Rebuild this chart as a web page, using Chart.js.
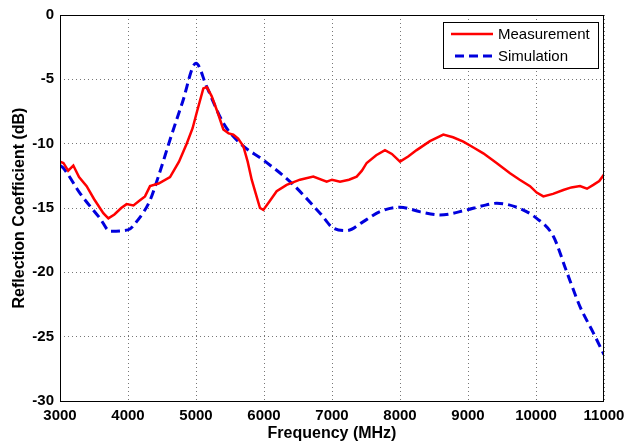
<!DOCTYPE html>
<html lang="en">
<head>
    <meta charset="UTF-8">
    <title>Reflection Coefficient</title>
    <script src="https://cdn.jsdelivr.net/npm/chart.js"></script>
    <style>
        body { margin: 0; background: #fff; }
        #wrap { width: 626px; height: 444px; }
    </style>
</head>
<body>
<div id="wrap"><canvas id="chart" width="626" height="444"></canvas></div>
<script>
    // 측정값 (MHz, dB)
    const measFreq = [3000, 3050, 3120, 3196, 3280, 3392, 3500, 3637, 3711, 3800, 3900, 3980, 4080, 4176, 4250,
        4324, 4450, 4618, 4750, 4863, 4950, 5010, 5108, 5160, 5230, 5320, 5402, 5480, 5549, 5620, 5696,
        5760, 5819, 5880, 5941, 5990, 6080, 6186, 6333, 6529, 6725, 6922, 7000, 7118, 7250, 7363, 7440,
        7510, 7650, 7779, 7880, 8000, 8120, 8245, 8440, 8637, 8780, 8931, 9080, 9225, 9420, 9618, 9760,
        9912, 10010, 10108, 10250, 10402, 10520, 10647, 10750, 10843, 10930, 11000];
    const measDb = [-11.4, -11.5, -12.1, -11.7, -12.6, -13.3, -14.3, -15.4, -15.8, -15.5, -15.0, -14.7, -14.8, -14.4, -14.1,
        -13.3, -13.1, -12.6, -11.4, -10.0, -8.8, -7.6, -5.7, -5.6, -6.3, -7.6, -8.9, -9.2, -9.3, -9.6, -10.2,
        -11.4, -12.8, -13.9, -15.0, -15.15, -14.5, -13.7, -13.2, -12.8, -12.56, -12.95, -12.8, -12.95, -12.8, -12.56, -12.1,
        -11.5, -10.9, -10.5, -10.8, -11.4, -11.0, -10.5, -9.8, -9.3, -9.5, -9.84, -10.3, -10.75, -11.5, -12.3, -12.8,
        -13.3, -13.8, -14.1, -13.9, -13.6, -13.4, -13.3, -13.5, -13.2, -12.9, -12.4];

    // 시뮬레이션 값 (MHz, dB)
    const simFreq = [3000, 3049, 3300, 3588, 3735, 4000, 4150, 4324, 4450, 4618, 4800, 5000, 5157, 5402, 5647,
        5990, 6382, 6824, 7015, 7216, 7450, 7706, 8000, 8300, 8588, 8980, 9200, 9422, 9716, 10010, 10255,
        10451, 10647, 10843, 11000];
    const simDb = [-11.7, -11.9, -13.9, -15.8, -16.8, -16.7, -15.9, -14.4, -12.5, -9.7, -6.8, -3.75, -5.57, -8.4, -9.97,
        -11.27, -12.95, -15.4, -16.55, -16.76, -16.1, -15.28, -14.94, -15.3, -15.54, -15.15, -14.85, -14.63, -14.94, -15.8, -17.2,
        -19.95, -22.66, -24.7, -26.4];

    const xTicks = [3000, 4000, 5000, 6000, 7000, 8000, 9000, 10000, 11000];
    const yTicks = [0, -5, -10, -15, -20, -25, -30];

    const seriesNames = ['Measurement', 'Simulation'];

    const FONT = '"Liberation Sans", Arial, sans-serif';

    const toPoints = (xs, ys) => xs.map((x, i) => ({ x: x, y: ys[i] }));

    // 테두리와 범례
    const framePlugin = {
        id: 'frame',
        afterDraw(chart) {
            const { ctx, chartArea: a } = chart;
            ctx.save();
            ctx.strokeStyle = '#000';
            ctx.lineWidth = 1;
            ctx.strokeRect(a.left + 0.5, a.top + 0.5, a.right - a.left - 1, a.bottom - a.top);

            // 범례 상자
            const bx = a.right - 161, by = a.top + 7, bw = 155, bh = 46;
            ctx.fillStyle = '#fff';
            ctx.fillRect(bx, by, bw, bh);
            ctx.strokeRect(bx + 0.5, by + 0.5, bw, bh);
            ctx.font = '15px ' + FONT;
            ctx.textBaseline = 'middle';
            chart.data.datasets.forEach((ds, i) => {
                const ly = by + 12 + i * 22;
                ctx.beginPath();
                ctx.strokeStyle = ds.borderColor;
                ctx.lineWidth = ds.borderWidth;
                ctx.setLineDash(ds.borderDash || []);
                ctx.moveTo(bx + (i ? 12 : 8), ly);
                ctx.lineTo(bx + 50, ly);
                ctx.stroke();
                ctx.setLineDash([]);
                ctx.fillStyle = '#000';
                ctx.fillText(ds.label, bx + 55, ly + 1);
            });
            ctx.restore();
        }
    };

    new Chart(document.getElementById('chart'), {
        type: 'line',
        data: {
            datasets: [{
                label: seriesNames[0],
                data: toPoints(measFreq, measDb),
                borderColor: '#ff0000',
                borderWidth: 2.5,
                pointRadius: 0,
                tension: 0,
                fill: false
            }, {
                label: seriesNames[1],
                data: toPoints(simFreq, simDb),
                borderColor: '#0000dd',
                borderWidth: 3,
                borderDash: [9, 5],
                pointRadius: 0,
                cubicInterpolationMode: 'monotone',
                fill: false
            }]
        },
        options: {
            responsive: false,
            animation: false,
            layout: { padding: { top: 15, right: 22, left: 0, bottom: 0 } },
            plugins: {
                legend: { display: false },
                tooltip: { enabled: false }
            },
            scales: {
                x: {
                    type: 'linear',
                    min: 3000,
                    max: 11000,
                    afterBuildTicks: (s) => { s.ticks = xTicks.map(v => ({ value: v })); },
                    afterFit: (s) => { s.height = 43; s.paddingLeft = 0; s.paddingRight = 0; },
                    grid: { color: '#777', drawTicks: false },
                    border: { display: false, dash: [1, 3] },
                    ticks: {
                        padding: 6,
                        maxRotation: 0,
                        color: '#000',
                        font: { family: FONT, size: 15, weight: 'bold' },
                        callback: (v) => String(v)
                    },
                    title: {
                        display: true,
                        text: 'Frequency (MHz)',
                        color: '#000',
                        padding: { top: 0, bottom: 1 },
                        font: { family: FONT, size: 16, weight: 'bold' }
                    }
                },
                y: {
                    min: -30,
                    max: 0,
                    afterBuildTicks: (s) => { s.ticks = yTicks.map(v => ({ value: v })); },
                    afterFit: (s) => { s.width = 60; s.paddingTop = 0; s.paddingBottom = 0; },
                    grid: { color: '#777', drawTicks: false },
                    border: { display: false, dash: [1, 3] },
                    ticks: {
                        padding: 6,
                        color: '#000',
                        font: { family: FONT, size: 15, weight: 'bold' }
                    },
                    title: {
                        display: true,
                        text: 'Reflection Coefficient (dB)',
                        color: '#000',
                        padding: { top: 10, bottom: 0 },
                        font: { family: FONT, size: 16, weight: 'bold' }
                    }
                }
            }
        },
        plugins: [framePlugin]
    });
</script>
</body>
</html>
